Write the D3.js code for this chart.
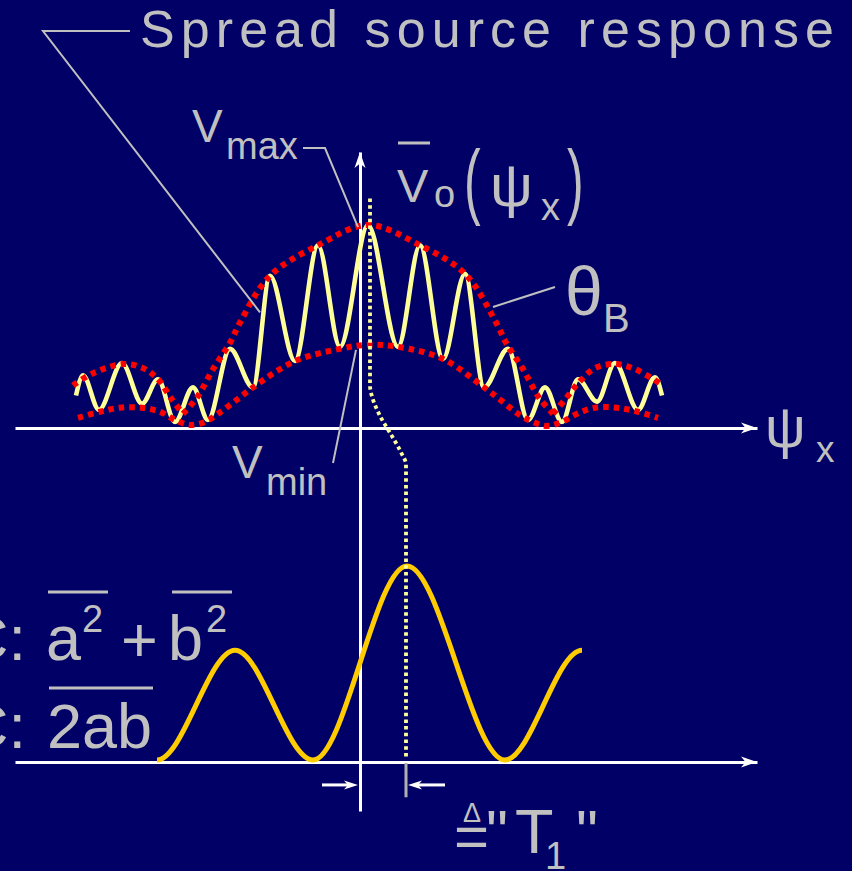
<!DOCTYPE html>
<html>
<head>
<meta charset="utf-8">
<script src="https://cdn.jsdelivr.net/npm/d3@7"></script>
<style>
  html, body { margin: 0; padding: 0; background: #000066; }
  svg { display: block; }
  .lbl { fill: #c0c0c0; font-family: "Liberation Sans", Arial, sans-serif; }
</style>
</head>
<body>
<svg id="chart" width="852" height="871"></svg>
<script>
// Spread-source fringe: extrema of the response along psi_x (top panel)
const fringePsi = [-2.84, -2.77, -2.61, -2.38, -2.18, -2.02, -1.85, -1.67, -1.52, -1.30, -1.07, -0.90, -0.65, -0.42, -0.20, 0.08,
                   0.38, 0.60, 0.83, 1.05, 1.24, 1.48, 1.68, 1.85, 2.02, 2.18, 2.37, 2.55, 2.78, 2.95, 3.02];
const fringeV   = [0.16, 0.26, 0.09, 0.32, 0.12, 0.24, 0.03, 0.20, 0.04, 0.39, 0.20, 0.75, 0.33, 0.90, 0.40, 1.00,
                   0.40, 0.90, 0.34, 0.76, 0.20, 0.39, 0.04, 0.20, 0.03, 0.24, 0.13, 0.32, 0.09, 0.25, 0.16];

// Upper envelope (V_max): left side lobe, central lobe, right side lobe
const vmaxLeftPsi   = [-2.87, -2.67, -2.37, -2.17, -2.02, -1.88, -1.77];
const vmaxLeft      = [0.21, 0.27, 0.315, 0.295, 0.24, 0.14, 0.07];
const vmaxCentrePsi = [-1.77, -1.63, -1.47, -1.30, -1.20, -0.90, -0.42, 0.08, 0.60, 1.05, 1.36, 1.46, 1.63, 1.79, 1.93];
const vmaxCentre    = [0.07, 0.15, 0.29, 0.42, 0.52, 0.75, 0.90, 1.00, 0.90, 0.76, 0.52, 0.42, 0.29, 0.15, 0.07];
const vmaxRightPsi  = [1.93, 2.05, 2.18, 2.35, 2.55, 2.75, 3.03];
const vmaxRight     = [0.07, 0.14, 0.22, 0.295, 0.315, 0.29, 0.21];

// Lower envelope (V_min)
const vminPsi = [-2.82, -2.60, -2.40, -2.18, -2.00, -1.85, -1.70, -1.55, -1.42, -1.23, -1.07, -0.65, -0.20, 0.08,
                 0.38, 0.83, 1.24, 1.40, 1.58, 1.73, 1.87, 2.02, 2.17, 2.35, 2.57, 2.78, 2.98];
const vmin    = [0.05, 0.08, 0.10, 0.10, 0.08, 0.04, 0.015, 0.03, 0.07, 0.14, 0.20, 0.33, 0.39, 0.41,
                 0.40, 0.34, 0.20, 0.14, 0.07, 0.03, 0.01, 0.03, 0.07, 0.10, 0.10, 0.08, 0.05];

// Bottom panel: extrema of the a^2 + b^2 + 2ab cos(...) fringe, shifted by T1
const phasePsi = [-2.03, -1.25, -0.47, 0.47, 1.45, 2.22];
const phaseV   = [0.01, 0.57, 0.01, 1.00, 0.01, 0.57];

// Dotted guide from the fringe centre down to the shifted peak
const guidePsi = [0.10, 0.10, 0.13, 0.20, 0.32, 0.41, 0.46];
const guideV   = [1.13, 0.21, 0.14, 0.06, -0.04, -0.12, -0.18];
const t1Shift = 0.46;

const W = 852, H = 871;
const svg = d3.select("#chart");
svg.append("rect").attr("width", W).attr("height", H).attr("fill", "#000066");

const x = d3.scaleLinear().domain([-3.45, 3.97]).range([15, 757]);
const yTop = d3.scaleLinear().domain([0, 1]).range([428, 225]);
const yBot = d3.scaleLinear().domain([0, 1]).range([762, 566]);

const zip = (a, b) => a.map((v, i) => [v, b[i]]);

// Curve through successive extrema: cubic segments with flat tangents at every point
function curveExtrema(context) {
  let prev = null;
  return {
    areaStart() {}, areaEnd() {},
    lineStart() { prev = null; },
    lineEnd() {},
    point(px, py) {
      px = +px; py = +py;
      if (!prev) context.moveTo(px, py);
      else {
        const dx = px - prev[0];
        context.bezierCurveTo(prev[0] + dx / 3, prev[1], prev[0] + 2 * dx / 3, py, px, py);
      }
      prev = [px, py];
    }
  };
}

// ---- axes ----
const axes = svg.append("g");
function styleAxis(g) {
  g.select(".domain").attr("stroke", "#ffffff").attr("stroke-width", 3);
}
axes.append("g").attr("transform", `translate(0,${yTop(0)})`)
  .call(d3.axisBottom(x).tickValues([]).tickSizeOuter(0)).call(styleAxis);
axes.append("g").attr("transform", `translate(0,${yBot(0)})`)
  .call(d3.axisBottom(x).tickValues([]).tickSizeOuter(0)).call(styleAxis);
const vScale = d3.scaleLinear().domain([0, 1]).range([yBot(-0.25), yTop(1.36)]);
axes.append("g").attr("transform", `translate(${x(0)},0)`)
  .call(d3.axisLeft(vScale).tickValues([]).tickSizeOuter(0)).call(styleAxis);

function arrowHead(g, tx, ty, angle, len, half, color) {
  g.append("path")
    .attr("d", `M0,0L${-len},${-half}L${-len * 0.72},0L${-len},${half}Z`)
    .attr("transform", `translate(${tx},${ty}) rotate(${angle})`)
    .attr("fill", color);
}
arrowHead(axes, x(3.97), yTop(0), 0, 16, 5.5, "#ffffff");
arrowHead(axes, x(3.97), yBot(0), 0, 16, 5.5, "#ffffff");
arrowHead(axes, x(0), yTop(1.36), -90, 16, 5.5, "#ffffff");

// ---- top panel curves ----
const lineTop = d3.line().x(d => x(d[0])).y(d => yTop(d[1]));
svg.append("path")
  .attr("d", lineTop.curve(d3.curveMonotoneX)(zip(fringePsi, fringeV)))
  .attr("fill", "none").attr("stroke", "#ffff99").attr("stroke-width", 4.6);

const envLine = d3.line().x(d => x(d[0])).y(d => yTop(d[1])).curve(d3.curveCatmullRom.alpha(0.5));
const envelopes = [zip(vmaxLeftPsi, vmaxLeft), zip(vmaxCentrePsi, vmaxCentre), zip(vmaxRightPsi, vmaxRight), zip(vminPsi, vmin)];
svg.append("g").selectAll("path").data(envelopes).join("path")
  .attr("d", envLine)
  .attr("fill", "none").attr("stroke", "#ff0000").attr("stroke-width", 6)
  .attr("stroke-dasharray", "5.5 5");

// ---- bottom panel curve ----
const lineBot = d3.line().x(d => x(d[0])).y(d => yBot(d[1])).curve(curveExtrema);
svg.append("path")
  .attr("d", lineBot(zip(phasePsi, phaseV)))
  .attr("fill", "none").attr("stroke", "#ffcc00").attr("stroke-width", 5);

// ---- dotted guide ----
const guidePts = zip(guidePsi, guideV).map(d => [x(d[0]), yTop(d[1])]);
guidePts.push([x(t1Shift), yBot(0.025)]);
svg.append("path")
  .attr("d", d3.line().curve(d3.curveMonotoneY)(guidePts))
  .attr("fill", "none").attr("stroke", "#ffff99").attr("stroke-width", 3.8)
  .attr("stroke-dasharray", "3.5 3.2");

// ---- T1 marker ----
const dimY = yBot(-0.117);
svg.append("line").attr("x1", x(t1Shift)).attr("x2", x(t1Shift))
  .attr("y1", yBot(0) + 1).attr("y2", yBot(-0.18))
  .attr("stroke", "#b0b0b0").attr("stroke-width", 3);
svg.append("line").attr("x1", x(-0.38)).attr("x2", x(0) - 8).attr("y1", dimY).attr("y2", dimY)
  .attr("stroke", "#ffffff").attr("stroke-width", 3);
arrowHead(svg, x(0) - 2, dimY, 0, 14, 4.5, "#ffffff");
svg.append("line").attr("x1", x(0.85)).attr("x2", x(t1Shift) + 8).attr("y1", dimY).attr("y2", dimY)
  .attr("stroke", "#ffffff").attr("stroke-width", 3);
arrowHead(svg, x(t1Shift) + 2, dimY, 180, 14, 4.5, "#ffffff");

// ---- leader lines ----
const leaders = svg.append("g").attr("fill", "none").attr("stroke", "#c0c0c0").attr("stroke-width", 2);
leaders.append("polyline").attr("points", [[130, 31], [43, 31], [x(-1.00), yTop(0.57)]].join(" "));
leaders.append("polyline").attr("points", [[303, 148], [325, 148], [x(-0.02), yTop(0.99)]].join(" "));
leaders.append("polyline").attr("points", [[x(-0.04), yTop(0.385)], [333, 463]].join(" "));
leaders.append("polyline").attr("points", [[x(1.33), yTop(0.596)], [555, 287]].join(" "));

// ---- labels ----
const T = svg.append("g").attr("class", "lbl");
function txt(s, px, py, fs, opts = {}) {
  const t = T.append("text").attr("x", px).attr("y", py).attr("font-size", fs).text(s);
  if (opts.anchor) t.attr("text-anchor", opts.anchor);
  if (opts.len) t.attr("textLength", opts.len).attr("lengthAdjust", "spacing");
  return t;
}
function bar(x1, x2, yy) {
  T.append("line").attr("x1", x1).attr("x2", x2).attr("y1", yy).attr("y2", yy)
    .attr("stroke", "#c0c0c0").attr("stroke-width", 3);
}

txt("Spread source response", 140, 47, 52, { len: 694 });

txt("V", 192, 142, 46);
txt("max", 226, 159, 38);

bar(398, 430, 143);
txt("V", 397, 202, 47);
txt("o", 434, 207, 38);
T.append("text").attr("font-size", 50).attr("transform", "translate(464,209) scale(1,1.68)").text("(");
txt("\u03C8", 490, 206, 60);
txt("x", 541, 220, 38);
T.append("text").attr("font-size", 50).attr("transform", "translate(567,209) scale(1,1.68)").text(")");

txt("\u03B8", 565, 315, 68);
txt("B", 603, 332, 40);

txt("\u03C8", 765, 447, 57);
txt("x", 816, 462, 37);

txt("V", 232, 478, 46);
txt("min", 266, 495, 38);

// left-hand formulas
txt("C:", 26, 660, 63, { anchor: "end" });
txt("a", 46, 660, 63);
txt("2", 82, 632, 38);
txt("+", 121, 662, 63);
txt("b", 168, 660, 63);
txt("2", 206, 632, 38);
bar(48, 108, 592);
bar(172, 232, 592);
txt("C:", 26, 748, 63, { anchor: "end" });
txt("2ab", 47, 748, 63);
bar(49, 153, 688);

// ≜ "T1"
txt("\u0394", 472, 822, 27, { anchor: "middle" });
txt("=", 454, 857, 60);
txt("\"", 486, 853, 62);
txt("T", 515, 853, 63);
txt("1", 545, 869, 38);
txt("\"", 576, 853, 62);
</script>
</body>
</html>
